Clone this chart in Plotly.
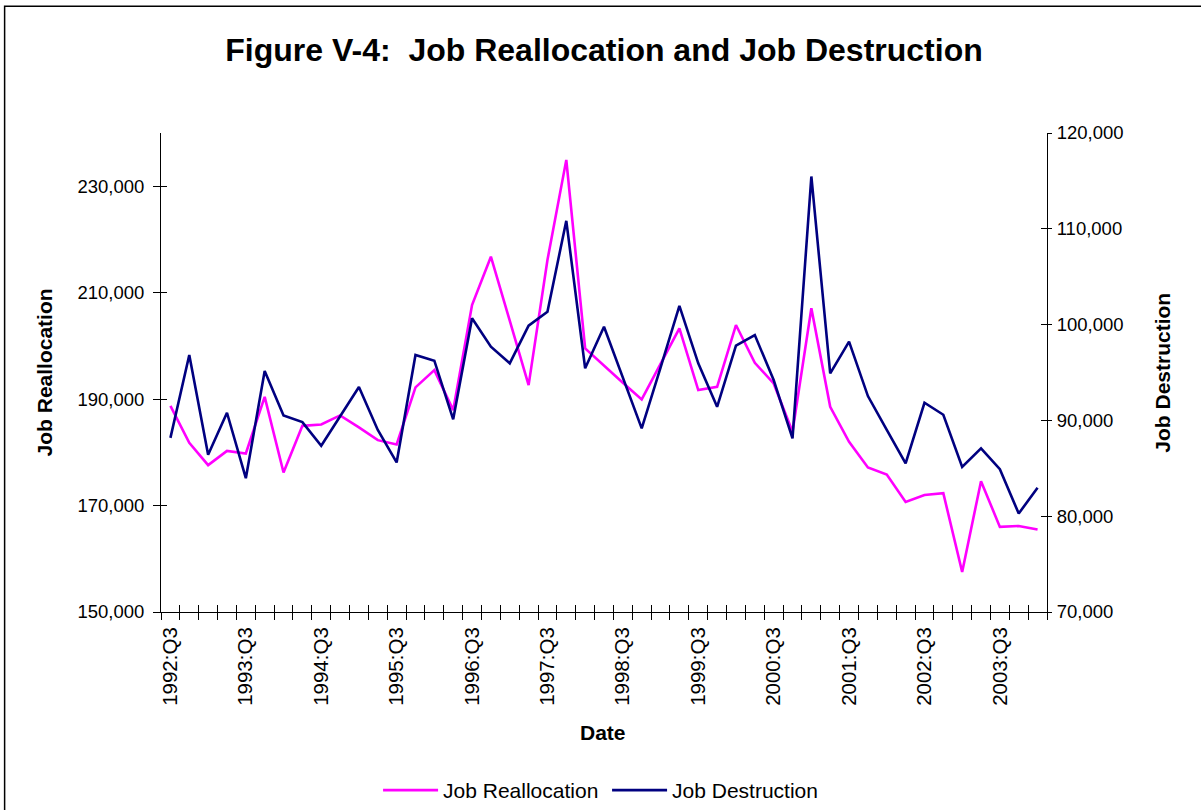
import numpy as np
import plotly.graph_objects as go

quarters = [
    "1992:Q3", "1992:Q4", "1993:Q1", "1993:Q2", "1993:Q3", "1993:Q4", "1994:Q1", "1994:Q2",
    "1994:Q3", "1994:Q4", "1995:Q1", "1995:Q2", "1995:Q3", "1995:Q4", "1996:Q1", "1996:Q2",
    "1996:Q3", "1996:Q4", "1997:Q1", "1997:Q2", "1997:Q3", "1997:Q4", "1998:Q1", "1998:Q2",
    "1998:Q3", "1998:Q4", "1999:Q1", "1999:Q2", "1999:Q3", "1999:Q4", "2000:Q1", "2000:Q2",
    "2000:Q3", "2000:Q4", "2001:Q1", "2001:Q2", "2001:Q3", "2001:Q4", "2002:Q1", "2002:Q2",
    "2002:Q3", "2002:Q4", "2003:Q1", "2003:Q2", "2003:Q3", "2003:Q4", "2004:Q1",
]

job_reallocation = [
    188740, 181780, 177590, 180280, 179790, 190430, 176220, 184980, 185240, 186940,
    184680, 182290, 181480, 192200, 195450, 187930, 207680, 216760, 204730, 192630,
    216140, 234950, 199530, 196210, 193070, 189940, 196530, 203300, 191690, 192310,
    203920, 196830, 192950, 183850, 207060, 188550, 181970, 177160, 175840, 170690,
    172000, 172320, 157520, 174580, 165990, 166170, 165500,
]

job_destruction = [
    88180, 96830, 86410, 90800, 83970, 95150, 90520, 89820, 87350, 90400,
    93480, 89000, 85610, 96830, 96230, 90110, 100660, 97690, 95960, 99890,
    101350, 110830, 95440, 99780, 94500, 89170, 95500, 101950, 95960, 91420,
    97800, 98910, 94210, 88120, 115460, 94910, 98220, 92540, 89020, 85510,
    91840, 90590, 85150, 87080, 84910, 80280, 82960,
]

x_tick_labels = ["1992:Q3", "1993:Q3", "1994:Q3", "1995:Q3", "1996:Q3", "1997:Q3",
                 "1998:Q3", "1999:Q3", "2000:Q3", "2001:Q3", "2002:Q3", "2003:Q3"]
left_ticks = [150000, 170000, 190000, 210000, 230000]
right_ticks = [70000, 80000, 90000, 100000, 110000, 120000]
left_range = [150000, 240000]
right_range = [70000, 120000]

FONT = "Liberation Sans, Arial, sans-serif"
PINK = "#FF00FF"
NAVY = "#000080"

fig = go.Figure()
fig.add_trace(go.Scatter(x=quarters, y=job_reallocation, mode="lines", name="Job Reallocation",
                         line=dict(color=PINK, width=2.6), xaxis="x", yaxis="y"))
fig.add_trace(go.Scatter(x=quarters, y=job_destruction, mode="lines", name="Job Destruction",
                         line=dict(color=NAVY, width=2.6), xaxis="x", yaxis="y2"))
# helper (empty) traces so the tick-overlay axes get drawn
for xa, ya in [("x2", "y"), ("x", "y3"), ("x", "y4")]:
    fig.add_trace(go.Scatter(x=[None], y=[None], mode="lines", showlegend=False,
                             hoverinfo="skip", xaxis=xa, yaxis=ya))

n = len(quarters)
boundaries = list(np.arange(-0.5, n + 0.5, 1.0))
ytick_font = dict(family=FONT, size=18.5, color="black")
xtick_font = dict(family=FONT, size=20.5, color="black")

fig.update_layout(
    width=1201, height=810,
    margin=dict(l=161, r=154.3, t=133.3, b=198.3, pad=0, autoexpand=False),
    paper_bgcolor="white", plot_bgcolor="white",
    font=dict(family=FONT, color="black"),
    title=dict(text="Figure V-4:\u00a0 Job Reallocation and Job Destruction",
               font=dict(family=FONT, size=32, color="black", weight="bold"),
               x=0.5, xref="paper", xanchor="center", y=0.938, yanchor="middle"),
    showlegend=True,
    legend=dict(orientation="h", x=0.245, xanchor="left", y=-0.3727, yanchor="middle",
                itemwidth=55, entrywidth=159, entrywidthmode="pixels",
                font=dict(family=FONT, size=21, color="black"), bgcolor="rgba(0,0,0,0)"),
    xaxis=dict(type="category", categoryorder="array", categoryarray=quarters,
               range=[-0.5, n - 0.5], tickmode="array", tickvals=quarters,
               ticktext=[q if q in x_tick_labels else "" for q in quarters],
               tickson="boundaries", ticks="outside", ticklen=7, tickwidth=1, tickcolor="black",
               tickangle=-90, tickfont=xtick_font, ticklabelstandoff=6,
               showline=True, linecolor="black", linewidth=1, showgrid=False, zeroline=False,
               automargin=False, anchor="y"),
    xaxis2=dict(overlaying="x", anchor="y", side="bottom", range=[-0.5, n - 0.5],
                tickmode="array", tickvals=boundaries, ticks="inside", ticklen=7,
                tickwidth=1, tickcolor="black", showticklabels=False, showline=False,
                showgrid=False, zeroline=False, automargin=False),
    yaxis=dict(range=left_range, tickmode="array", tickvals=left_ticks, tickformat=",d",
               ticks="outside", ticklen=7, tickwidth=1, tickcolor="black", tickfont=ytick_font,
               ticklabelstandoff=5, showline=True, linecolor="black", linewidth=1,
               showgrid=False, zeroline=False, automargin=False, anchor="x", side="left"),
    yaxis2=dict(range=right_range, tickmode="array", tickvals=right_ticks, tickformat=",d",
                ticks="outside", ticklen=4, tickwidth=1, tickcolor="black", tickfont=ytick_font,
                ticklabelstandoff=1, showline=True, linecolor="black", linewidth=1,
                showgrid=False, zeroline=False, automargin=False, anchor="x",
                overlaying="y", side="right"),
    yaxis3=dict(range=left_range, tickmode="array", tickvals=left_ticks, ticks="inside",
                ticklen=6, tickwidth=1, tickcolor="black", showticklabels=False,
                showline=False, showgrid=False, zeroline=False, automargin=False,
                anchor="x", overlaying="y", side="left"),
    yaxis4=dict(range=right_range, tickmode="array", tickvals=right_ticks, ticks="inside",
                ticklen=6, tickwidth=1, tickcolor="black", showticklabels=False,
                showline=False, showgrid=False, zeroline=False, automargin=False,
                anchor="x", overlaying="y", side="right"),
    annotations=[
        dict(text="<b>Job Reallocation</b>", xref="paper", yref="paper", x=-0.131, y=0.5,
             textangle=-90, showarrow=False, font=dict(family=FONT, size=21, color="black"),
             xanchor="center", yanchor="middle"),
        dict(text="<b>Job Destruction</b>", xref="paper", yref="paper", x=1.130, y=0.5,
             textangle=-90, showarrow=False, font=dict(family=FONT, size=21, color="black"),
             xanchor="center", yanchor="middle"),
        dict(text="<b>Date</b>", xref="paper", yref="paper", x=0.4985, y=-0.2515,
             showarrow=False, font=dict(family=FONT, size=21, color="black"),
             xanchor="center", yanchor="middle"),
    ],
    shapes=[
        dict(type="rect", xref="paper", yref="paper", x0=-0.1765, x1=1.5, y0=-1.0, y1=1.2646,
             line=dict(color="black", width=1.5), fillcolor="rgba(0,0,0,0)", layer="below"),
    ],
)

fig.write_html("out.html")
